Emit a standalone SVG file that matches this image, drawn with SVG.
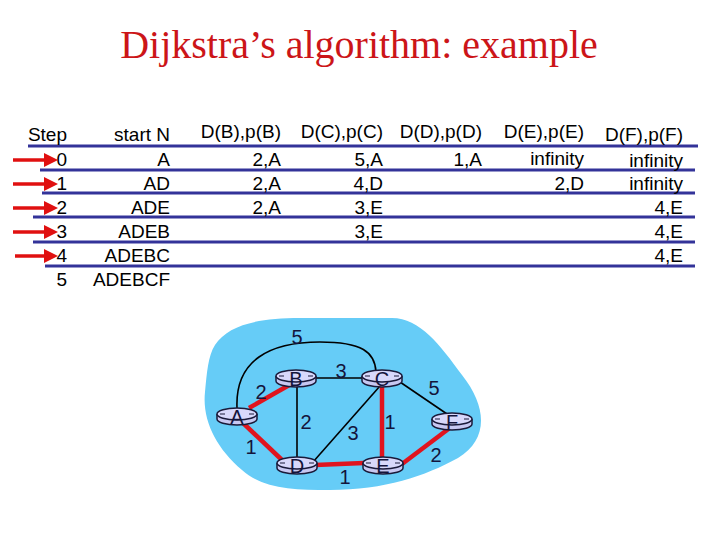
<svg xmlns="http://www.w3.org/2000/svg" xmlns:xlink="http://www.w3.org/1999/xlink" width="720" height="540" viewBox="0 0 720 540">
<style>
.title{font-family:"Liberation Serif","Times New Roman",serif;font-size:40px;fill:#cc1518}
.t{font-family:"Liberation Sans",Arial,sans-serif;font-size:19px;fill:#000;text-anchor:end}
.rule{stroke:#333399;stroke-width:3}
.arr{stroke:#e01010;stroke-width:3.5}
.blk{stroke:#000;stroke-width:1.6;fill:none}
.red{stroke:#e0141e;stroke-width:4.5;fill:none}
.lbl{font-family:"Liberation Sans",Arial,sans-serif;font-size:20px;fill:#14143c;text-anchor:middle}
.nl{font-family:"Liberation Sans",Arial,sans-serif;font-size:20px;fill:#14143c;text-anchor:middle}
</style>
<defs>
<marker id="ah" markerWidth="4" markerHeight="4" refX="2" refY="2" orient="auto" markerUnits="strokeWidth">
<path d="M0,0 L4,2 L0,4 Z" fill="#e01010"/>
</marker>
<g id="router">
<path d="M-20,-2 v5 a20,6 0 0 0 40,0 v-5" fill="#c8c8f2" stroke="#1a1a3a" stroke-width="1.5"/>
<ellipse cx="0" cy="-2" rx="20" ry="6" fill="#d8d8fb" stroke="#1a1a3a" stroke-width="1.5"/>
<path d="M-17,-2 h5 M17,-2 h-5" stroke="#1a1a3a" stroke-width="1.2" fill="none"/>
</g>
</defs>
<rect width="720" height="540" fill="#fff"/>
<text class="title" x="359" y="58" text-anchor="middle">Dijkstra’s algorithm: example</text>

<g id="table">
<g id="rules">
<line class="rule" x1="28" y1="146" x2="698" y2="146"/>
<line class="rule" x1="40" y1="170" x2="695" y2="170"/>
<line class="rule" x1="42" y1="193" x2="695" y2="193"/>
<line class="rule" x1="33" y1="217" x2="695" y2="217"/>
<line class="rule" x1="33" y1="242" x2="695" y2="242"/>
<line class="rule" x1="45" y1="266" x2="695" y2="266"/>
</g>
<g id="header">
<text class="t" x="67" y="141">Step</text>
<text class="t" x="170" y="141">start N</text>
<text class="t" x="281" y="138">D(B),p(B)</text>
<text class="t" x="383" y="138">D(C),p(C)</text>
<text class="t" x="482" y="138">D(D),p(D)</text>
<text class="t" x="584" y="138">D(E),p(E)</text>
<text class="t" x="683" y="141">D(F),p(F)</text>
</g>
<g id="row0">
<text class="t" x="67" y="166">0</text><text class="t" x="170" y="166">A</text>
<text class="t" x="281" y="166">2,A</text><text class="t" x="383" y="166">5,A</text>
<text class="t" x="482" y="166">1,A</text><text class="t" x="584" y="165">infinity</text>
<text class="t" x="683" y="167">infinity</text>
</g>
<g id="row1">
<text class="t" x="67" y="190">1</text><text class="t" x="170" y="190">AD</text>
<text class="t" x="281" y="190">2,A</text><text class="t" x="383" y="190">4,D</text>
<text class="t" x="584" y="190">2,D</text><text class="t" x="683" y="190">infinity</text>
</g>
<g id="row2">
<text class="t" x="67" y="214">2</text><text class="t" x="170" y="214">ADE</text>
<text class="t" x="281" y="214">2,A</text><text class="t" x="383" y="214">3,E</text>
<text class="t" x="683" y="214">4,E</text>
</g>
<g id="row3">
<text class="t" x="67" y="238">3</text><text class="t" x="170" y="238">ADEB</text>
<text class="t" x="383" y="238">3,E</text><text class="t" x="683" y="238">4,E</text>
</g>
<g id="row4">
<text class="t" x="67" y="262">4</text><text class="t" x="170" y="262">ADEBC</text>
<text class="t" x="683" y="262">4,E</text>
</g>
<g id="row5">
<text class="t" x="67" y="286">5</text><text class="t" x="170" y="286">ADEBCF</text>
</g>
<g id="step-arrows">
<line class="arr" x1="13" y1="160" x2="51" y2="160" marker-end="url(#ah)"/>
<line class="arr" x1="13" y1="184" x2="51" y2="184" marker-end="url(#ah)"/>
<line class="arr" x1="13" y1="208" x2="51" y2="208" marker-end="url(#ah)"/>
<line class="arr" x1="13" y1="232" x2="51" y2="232" marker-end="url(#ah)"/>
<line class="arr" x1="15" y1="256" x2="51" y2="256" marker-end="url(#ah)"/>
</g>
</g>

<path id="cloud" d="M215,345 C228,325 258,318 300,318 L392,318 C420,318 440,345 462,375 C488,408 488,440 458,458 C425,476 385,490 330,490 C292,490 262,488 242,470 C216,448 202,420 205,392 C207,372 208,356 215,345 Z" fill="#66ccf7"/>

<g id="connectors">
<path class="blk" d="M237,408 C235,360 270,342 320,342 C362,342 375,352 376,372"/>
<line class="blk" x1="316" y1="378" x2="362" y2="378"/>
<line class="blk" x1="297" y1="385" x2="297" y2="458"/>
<line class="blk" x1="380" y1="386" x2="313" y2="462"/>
<line class="blk" x1="400" y1="382" x2="447" y2="414"/>
<line class="red" x1="249" y1="408" x2="291" y2="384"/>
<line class="red" x1="242" y1="422" x2="282" y2="460"/>
<line class="red" x1="382" y1="386" x2="382" y2="458"/>
<line class="red" x1="315" y1="465" x2="364" y2="463"/>
<line class="red" x1="402" y1="464" x2="451" y2="427"/>
<text class="lbl" x="297" y="344">5</text>
<text class="lbl" x="261" y="399">2</text>
<text class="lbl" x="341" y="378">3</text>
<text class="lbl" x="434" y="395">5</text>
<text class="lbl" x="306" y="429">2</text>
<text class="lbl" x="353" y="440">3</text>
<text class="lbl" x="390" y="429">1</text>
<text class="lbl" x="251" y="454">1</text>
<text class="lbl" x="345" y="484">1</text>
<text class="lbl" x="436" y="462">2</text>
</g>

<g id="node-A" transform="translate(237,416)"><use xlink:href="#router"/><text class="nl" x="0" y="8">A</text></g>
<g id="node-B" transform="translate(296,378)"><use xlink:href="#router"/><text class="nl" x="0" y="8">B</text></g>
<g id="node-C" transform="translate(382,378)"><use xlink:href="#router"/><text class="nl" x="0" y="8">C</text></g>
<g id="node-D" transform="translate(297,465)"><use xlink:href="#router"/><text class="nl" x="0" y="8">D</text></g>
<g id="node-E" transform="translate(383,465)"><use xlink:href="#router"/><text class="nl" x="0" y="8">E</text></g>
<g id="node-F" transform="translate(452,421)"><use xlink:href="#router"/><text class="nl" x="0" y="8">F</text></g>
</svg>
